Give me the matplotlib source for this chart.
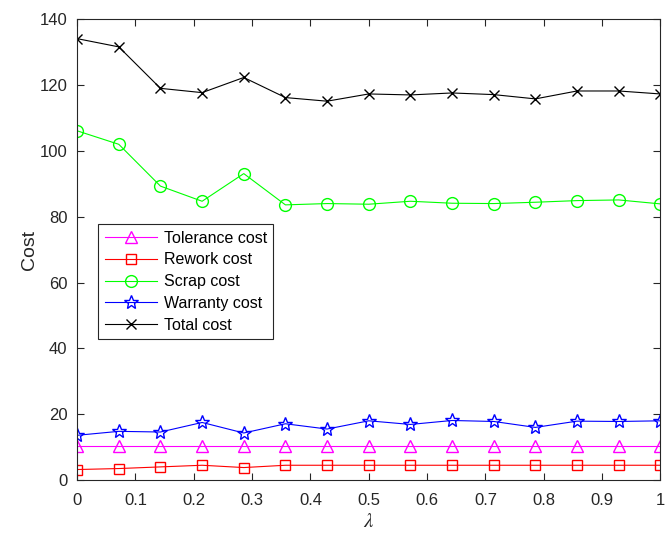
import matplotlib
matplotlib.use("Agg")
import matplotlib.pyplot as plt
import numpy as np

plt.rcParams["font.family"] = ["Liberation Sans", "DejaVu Sans"]
plt.rcParams["mathtext.fontset"] = "stix"

# lambda values: 15 evenly spaced steps from 0 to 1
lam = np.linspace(0, 1, 15)

tolerance = [10.5] * 15
rework = [3.2, 3.5, 4.0, 4.5, 3.8, 4.5, 4.5, 4.5, 4.5, 4.5, 4.5, 4.5, 4.5, 4.5, 4.5]
scrap = [106.1, 102.0, 89.3, 84.7, 93.1, 83.6, 84.0, 83.8, 84.7, 84.1, 84.0, 84.4, 84.9, 85.1, 83.9]
warranty = [13.6, 14.8, 14.6, 17.5, 14.3, 17.1, 15.5, 18.0, 16.9, 18.1, 17.8, 16.0, 17.9, 17.8, 18.0]
total = [134.1, 131.6, 119.0, 117.7, 122.3, 116.2, 115.1, 117.3, 117.0, 117.6, 117.1, 115.8, 118.2, 118.2, 117.3]

fig = plt.figure(figsize=(6.65, 5.34), dpi=100)
ax = fig.add_axes([0.116, 0.101, 0.877, 0.863])

ax.plot(lam, tolerance, color="#ff00ff", marker="^", mfc="none", ms=8.5, lw=0.8, label="Tolerance cost")
ax.plot(lam, rework, color="#ff0000", marker="s", mfc="none", ms=6.5, lw=0.8, label="Rework cost")
ax.plot(lam, scrap, color="#00ff00", marker="o", mfc="none", ms=8.5, lw=0.8, label="Scrap cost")
ax.plot(lam, warranty, color="#0000ff", marker="*", mfc="none", ms=10, lw=0.8, label="Warranty cost")
ax.plot(lam, total, color="black", marker="x", ms=7, lw=0.8, label="Total cost")

ax.set_xlim(0, 1)
ax.set_ylim(0, 140)
ax.set_xticks(np.arange(0, 1.01, 0.1))
ax.set_xticklabels(["0", "0.1", "0.2", "0.3", "0.4", "0.5", "0.6", "0.7", "0.8", "0.9", "1"])
ax.set_yticks(range(0, 141, 20))

for s in ax.spines.values():
    s.set_color("#262626")
    s.set_linewidth(0.8)
ax.tick_params(direction="in", top=True, right=True, labelsize=12, colors="#262626", length=5)
ax.tick_params(axis="x", pad=9)
ax.tick_params(axis="y", pad=7)

ax.set_xlabel(r"$\lambda$", fontsize=15, color="#262626", labelpad=3)
ax.set_ylabel("Cost", fontsize=14, color="#262626", labelpad=1)

leg = ax.legend(loc="upper left", bbox_to_anchor=(0.036, 0.555), fontsize=11.5,
                fancybox=False, edgecolor="#262626", framealpha=1,
                borderaxespad=0, handlelength=3.3, handletextpad=0.4,
                labelspacing=0.42, borderpad=0.4)
leg.get_frame().set_linewidth(0.8)

fig.savefig("out.png", dpi=100)
